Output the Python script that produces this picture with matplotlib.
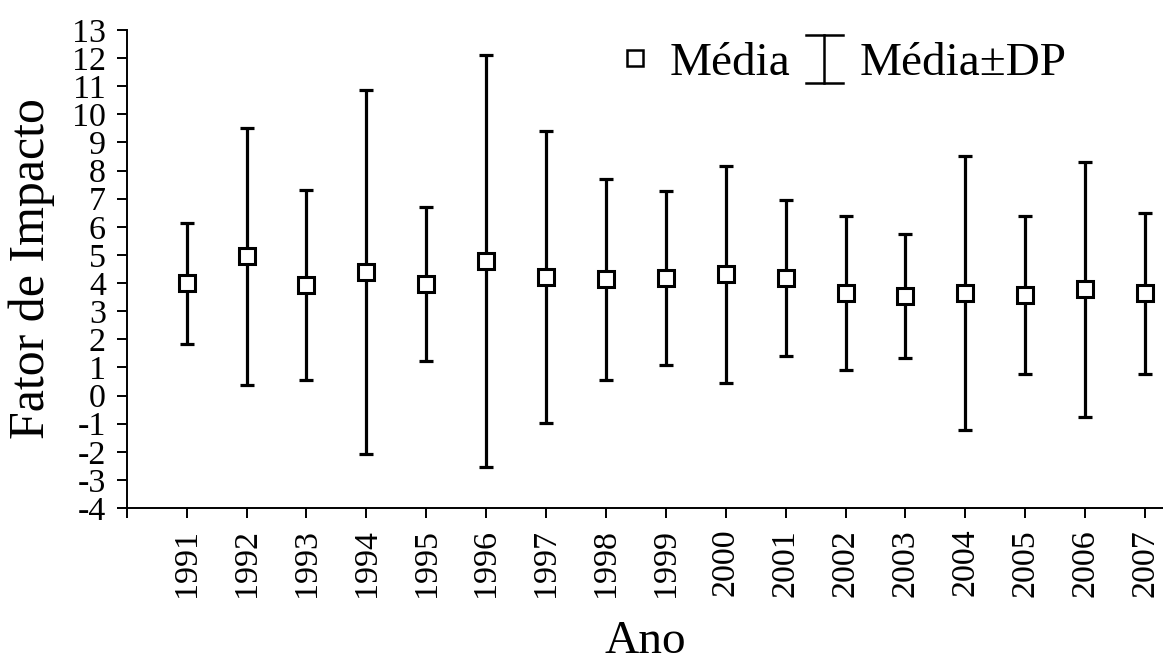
import numpy as np
import matplotlib.pyplot as plt
from matplotlib.lines import Line2D
from matplotlib.legend_handler import HandlerBase

plt.rcParams['font.family'] = ['Liberation Serif', 'DejaVu Serif']
plt.rcParams['axes.unicode_minus'] = False

years = ['1991', '1992', '1993', '1994', '1995', '1996', '1997', '1998', '1999',
         '2000', '2001', '2002', '2003', '2004', '2005', '2006', '2007']
media = [3.99, 4.96, 3.93, 4.38, 3.97, 4.79, 4.23, 4.13, 4.17,
         4.32, 4.17, 3.66, 3.54, 3.66, 3.58, 3.78, 3.64]
dp = [2.16, 4.57, 3.38, 6.47, 2.73, 7.33, 5.19, 3.58, 3.09,
      3.86, 2.78, 2.74, 2.20, 4.87, 2.80, 4.53, 2.86]

x = np.arange(1, len(years) + 1)


# legend symbol for the error bar: a plain "I" shape
class HandlerI(HandlerBase):
    def create_artists(self, legend, orig_handle, xdescent, ydescent,
                       width, height, fontsize, trans):
        cx = width / 2 - xdescent
        y0 = -ydescent - 0.25 * height
        y1 = -ydescent + 1.2 * height
        kw = dict(color='black', lw=1.8, transform=trans)
        return [Line2D([cx, cx], [y0, y1], **kw),
                Line2D([-xdescent, width - xdescent], [y0, y0], **kw),
                Line2D([-xdescent, width - xdescent], [y1, y1], **kw)]


fig = plt.figure(figsize=(11.63, 6.62), dpi=100)
ax = fig.add_axes([0.109, 0.2326, 0.891, 0.7221])

eb = ax.errorbar(x, media, yerr=dp, fmt='none', ecolor='black', elinewidth=2.3,
                 capsize=5, capthick=2.3, zorder=2)
sq, = ax.plot(x, media, 's', color='black', markerfacecolor='white',
              markersize=12, markeredgewidth=2.2, linestyle='none', zorder=3)

ax.set_xlim(0, 17.3)
ax.set_ylim(-4, 13)
ax.set_yticks(np.arange(-4, 14, 1))
ax.set_xticks(np.arange(0, 18))
ax.set_xticklabels([''] + years, rotation=90)

ax.spines['top'].set_visible(False)
ax.spines['right'].set_visible(False)
ax.spines['left'].set_linewidth(1.4)
ax.spines['bottom'].set_linewidth(1.4)
ax.tick_params(axis='both', direction='out', length=7, width=1.4, labelsize=24.5, pad=8)

ax.set_xlabel('Ano', fontsize=34, labelpad=17)
ax.set_ylabel('Fator de Impacto', fontsize=36)
ax.yaxis.set_label_coords(-0.069, 0.5)

leg_sq = Line2D([], [], marker='s', color='black', markerfacecolor='white',
                markersize=12, markeredgewidth=1.8, linestyle='none')
eb_proxy = Line2D([], [], color='black')
ax.legend([leg_sq, eb_proxy], ['Média', 'Média±DP'], loc='upper left',
          bbox_to_anchor=(0.472, 0.975), ncol=2, frameon=False, fontsize=34,
          handlelength=0.8, handletextpad=0.34, columnspacing=0.32,
          borderpad=0, borderaxespad=0,
          handler_map={eb_proxy: HandlerI()})

plt.savefig('out.png', dpi=100)
